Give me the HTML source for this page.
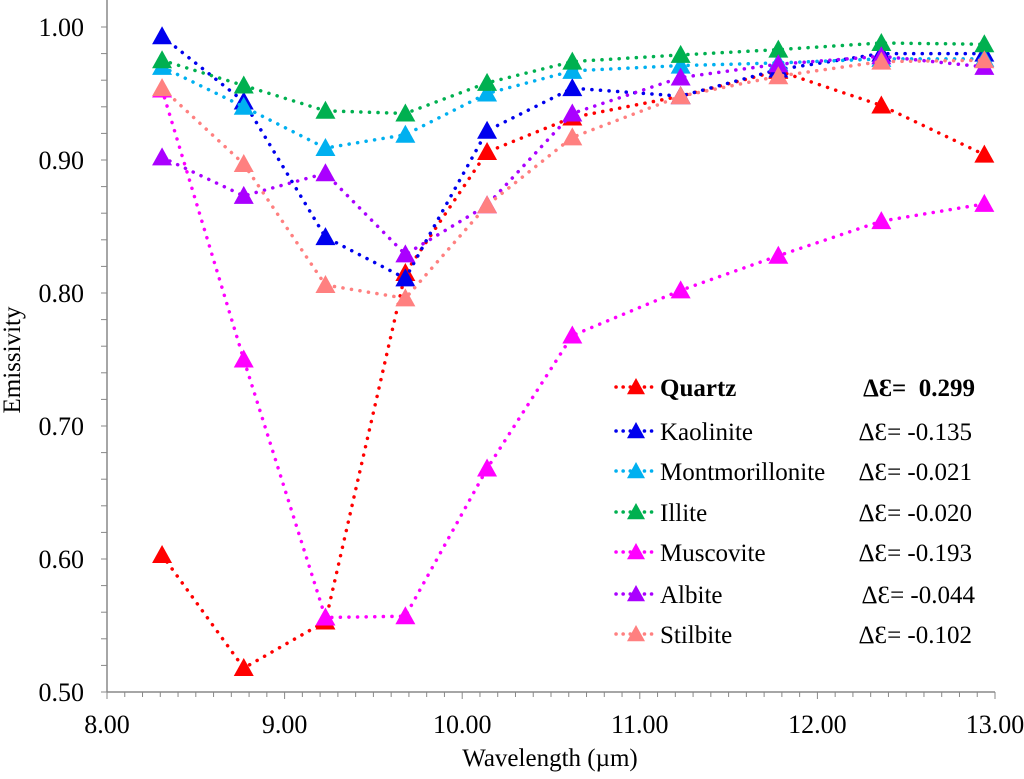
<!DOCTYPE html>
<html><head><meta charset="utf-8"><style>
body{margin:0;background:#fff}
svg, svg text{font-family:"Liberation Serif","Times New Roman","DejaVu Serif",serif}
</style></head><body>
<svg id="chart" width="1024" height="774" font-family="Liberation Serif, serif"></svg>
<script>
const wavelengths=[8.31,8.77,9.23,9.68,10.14,10.62,11.23,11.78,12.36,12.94];
const quartz=[0.603,0.518,0.553,0.815,0.906,0.932,0.948,0.967,0.941,0.904];
const kaolinite=[0.993,0.944,0.842,0.811,0.922,0.954,0.948,0.968,0.980,0.980];
const montmorillonite=[0.970,0.940,0.909,0.919,0.950,0.967,0.971,0.973,0.976,0.976];
const illite=[0.975,0.956,0.937,0.935,0.958,0.974,0.979,0.983,0.988,0.987];
const muscovite=[0.953,0.750,0.556,0.557,0.668,0.768,0.802,0.828,0.854,0.867];
const albite=[0.902,0.873,0.890,0.829,0.866,0.935,0.962,0.972,0.978,0.970];
const stilbite=[0.954,0.897,0.806,0.796,0.866,0.917,0.948,0.963,0.974,0.975];
const seriesNames=["Quartz","Kaolinite","Montmorillonite","Illite","Muscovite","Albite","Stilbite"];
const deltas=["0.299","-0.135","-0.021","-0.020","-0.193","-0.044","-0.102"];
const xTicks=["8.00","9.00","10.00","11.00","12.00","13.00"];
const yTicks=["0.50","0.60","0.70","0.80","0.90","1.00"];

const colors=["#ff0000","#0000ee","#00b0f0","#00b050","#ff00ff","#aa00ff","#ff8080"];
const data=[quartz,kaolinite,montmorillonite,illite,muscovite,albite,stilbite];
const X0=107,X1=995,Y0=692,Y1=27;
const xs=v=>X0+(v-8)/5*(X1-X0);
const ys=v=>Y0-(v-0.5)/0.5*(Y0-Y1);
const svg=document.getElementById('chart');
const NS='http://www.w3.org/2000/svg';
function mk(t,a,p){const e=document.createElementNS(NS,t);for(const k in a)e.setAttribute(k,a[k]);(p||svg).appendChild(e);return e;}
let ax=mk('line',{x1:X0,y1:0,x2:X0,y2:Y0,stroke:'#888','stroke-width':1.5});


ax=mk('line',{x1:X0,y1:Y0,x2:X1,y2:Y0,stroke:'#888','stroke-width':1.5});


for(let i=0;i<=25;i++){const v=0.5+i*0.02;mk('line',{x1:X0-6,x2:X0,y1:ys(v),y2:ys(v),stroke:'#888'});}
for(let i=0;i<=50;i++){const v=8+i*0.1;mk('line',{x1:xs(v),x2:xs(v),y1:Y0,y2:Y0+(i%10==0?7:5),stroke:'#888'});}
yTicks.forEach(t=>{const e=mk('text',{x:X0-23,y:ys(+t)+9,'text-anchor':'end','font-size':26});e.textContent=t;

});
xTicks.forEach(t=>{const e=mk('text',{x:xs(+t),y:Y0+41,'text-anchor':'middle','font-size':26});e.textContent=t;

});
let tt=mk('text',{x:0,y:0,'text-anchor':'middle','font-size':25,transform:'translate(20,360) rotate(-90)'});tt.textContent='Emissivity';


tt=mk('text',{x:550,y:766,'text-anchor':'middle','font-size':25});tt.textContent='Wavelength (µm)';


function tri(x,y,c,g,s){s=s||10;return mk('polygon',{points:`${x},${y-s} ${x-s},${y+s*0.8} ${x+s},${y+s*0.8}`,fill:c},g);}
data.forEach((arr,si)=>{
 const g=mk('g',{});
 
 
 const pts=arr.map((v,i)=>xs(wavelengths[i])+','+ys(v)).join(' ');
 mk('polyline',{points:pts,fill:'none',stroke:colors[si],'stroke-width':3.5,'stroke-dasharray':'0.1 8.5','stroke-linecap':'round'},g);
 arr.forEach((v,i)=>{const t=tri(xs(wavelengths[i]),ys(v),colors[si],g);
 
 });
});
const lg=mk('g',{});


const rows=[387,431,471,512,552,594,634];
seriesNames.forEach((n,i)=>{
 const y=rows[i];const g=mk('g',{},lg);
 
 
 mk('line',{x1:616,x2:655,y1:y,y2:y,stroke:colors[i],'stroke-width':3.5,'stroke-dasharray':'0.1 7','stroke-linecap':'round'},g);
 tri(636,y,colors[i],g,9);
 const t=mk('text',{x:660,y:y+9,'font-size':25,'font-weight':i==0?'bold':'normal'},g);t.textContent=n;
 const xe=(i==0||i==5)?975:972;
 const d=mk('text',{x:xe,y:y+9,'text-anchor':'end','font-size':25,'font-weight':i==0?'bold':'normal'},g);
 d.textContent=(i==0?'ΔƐ=\u00a0\u00a0':'ΔƐ= ')+deltas[i];
});
</script>
</body></html>
